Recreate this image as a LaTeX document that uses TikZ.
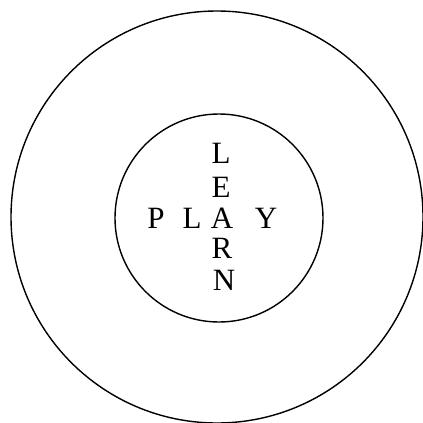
\documentclass[tikz,border=0pt]{standalone}
\usepackage{fontspec}
\setmainfont{Liberation Serif}
\tikzset{
  letter/.style={font=\fontsize{31}{31}\selectfont, inner sep=0pt, anchor=center},
  ring/.style={line width=1.4pt}
}
\begin{document}
\begin{tikzpicture}[x=1pt, y=-1pt]
    \useasboundingbox (0,0) rectangle (423,423);
    % Outer and inner rings
    \draw[ring] (217,217) circle (206);
    \draw[ring] (219,218) circle (104);
    % Vertical word
    \node[letter] (lrnL) at (221,153) {L};
    \node[letter] (lrnE) at (221,187) {E};
    \node[letter] (lrnA) at (222,218) {A};
    \node[letter] (lrnR) at (222,248) {R};
    \node[letter] (lrnN) at (224,280) {N};
    % Horizontal word (shares the A)
    \node[letter] (plyP) at (156,218) {P};
    \node[letter] (plyL) at (192,218) {L};
    \node[letter] (plyY) at (266,218) {Y};
\end{tikzpicture}
\end{document}
